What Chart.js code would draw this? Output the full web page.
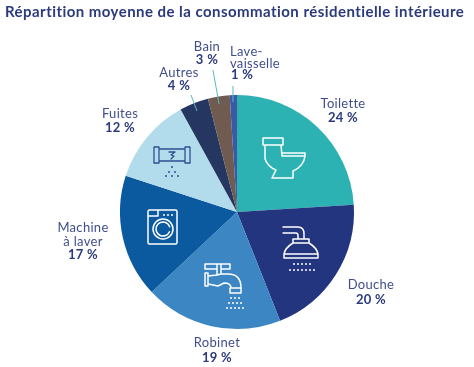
<!DOCTYPE html>
<html lang="fr"><head><meta charset="utf-8">
<style>html,body{margin:0;padding:0;background:#fff}#w{position:relative;width:474px;height:367px}</style>
<script src="https://cdn.jsdelivr.net/npm/chart.js@4/dist/chart.umd.min.js"></script>
</head><body><div id="w"><canvas id="c" width="474" height="367"></canvas></div>
<script>
const titleText = "Répartition moyenne de la consommation résidentielle intérieure";
const categories = ["Toilette","Douche","Robinet","Machine à laver","Fuites","Autres","Bain","Lave-vaisselle"];
const values = [24,20,19,17,12,4,3,1];
const valueLabels = ["24 %","20 %","19 %","17 %","12 %","4 %","3 %","1 %"];
const colors = ["#2db2b4","#22357e","#3c87c3","#0b5a9f","#b2dceb","#253661","#6f5b50","#3a5aa6"];
const ink = "#2b3a7c";
const inkSoft = "#414e8c";

const labelLines = [["Toilette"],["Douche"],["Robinet"],["Machine","à laver"],["Fuites"],["Autres"],["Bain"],["Lave-","vaisselle"]];
const labelAnchors = [[343,104],[371,285],[217,343],[83,228],[120,114],[179,73],[207,47],[230,52]];
const labelAligns = ["center","center","center","center","center","center","center","left"];
const lineSteps = [14,15,15,13.5,14,13,13,11.5];
const leaders = [[[191,95],[197,111]],[[213,70],[219,104]],[[233,86],[233,102]]];

const iconSpots = {toilet:[284,158],shower:[300,248],faucet:[224,286],washer:[163,227],pipe:[172,160]};

function dots(ctx, rows){ for(const [x0,y,n,step] of rows){ for(let i=0;i<n;i++){ ctx.beginPath(); ctx.arc(x0+i*step,y,1,0,7); ctx.fill(); } } }
const icons = {
  toilet(ctx){
    ctx.beginPath();
    ctx.moveTo(-21,-20); ctx.lineTo(-1,-20); ctx.lineTo(-1,-13); ctx.lineTo(-21,-13); ctx.closePath();
    ctx.moveTo(-19,-13); ctx.lineTo(-19,1); ctx.quadraticCurveTo(-16,9,-8,12); ctx.lineTo(-12,20); ctx.lineTo(9,20); ctx.lineTo(9,13);
    ctx.quadraticCurveTo(20,8,21,-2); ctx.lineTo(-2,-2); ctx.lineTo(-3,-13);
    ctx.moveTo(-2,-2); ctx.lineTo(-2,-5); ctx.lineTo(21,-5); ctx.lineTo(21,-2);
    ctx.stroke();
  },
  shower(ctx){
    ctx.beginPath();
    ctx.moveTo(-17,-21); ctx.lineTo(-2,-21); ctx.quadraticCurveTo(4,-21,4,-14); ctx.lineTo(4,-9);
    ctx.moveTo(-17,-15); ctx.lineTo(-4,-15); ctx.quadraticCurveTo(-2,-15,-2,-12); ctx.lineTo(-2,-9);
    ctx.moveTo(-7,-9); ctx.lineTo(9,-9); ctx.lineTo(9,-5); ctx.lineTo(-7,-5); ctx.closePath();
    ctx.moveTo(-7,-5); ctx.quadraticCurveTo(-15,0,-16,6); ctx.moveTo(9,-5); ctx.quadraticCurveTo(17,0,18,6);
    ctx.moveTo(-16,6); ctx.lineTo(18,6); ctx.lineTo(18,10); ctx.lineTo(-16,10); ctx.closePath();
    ctx.stroke();
    dots(ctx,[[-6,16,5,4],[-10,22,7,4]]);
  },
  faucet(ctx){
    ctx.beginPath();
    ctx.moveTo(-19,-22); ctx.lineTo(-7,-22); ctx.lineTo(-7,-17); ctx.lineTo(-19,-17); ctx.closePath();
    ctx.moveTo(-3,-22); ctx.lineTo(6,-22); ctx.lineTo(6,-17); ctx.lineTo(-3,-17); ctx.closePath();
    ctx.moveTo(-7,-22); ctx.lineTo(-3,-22); ctx.moveTo(-3,-17); ctx.lineTo(-3,-12); ctx.moveTo(-7,-17); ctx.lineTo(-7,-11);
    ctx.rect(-19,-13,3,13);
    ctx.moveTo(-16,-10); ctx.lineTo(-7,-11); ctx.lineTo(-3,-12); ctx.lineTo(4,-12);
    ctx.quadraticCurveTo(17,-12,17,2); ctx.lineTo(7,2); ctx.quadraticCurveTo(7,-3,0,-3);
    ctx.lineTo(-6,0); ctx.lineTo(-16,-2);
    ctx.rect(6,2,11,5);
    ctx.stroke();
    dots(ctx,[[7,12,3,4],[5,17,4,4],[3,22,5,4]]);
  },
  washer(ctx){
    ctx.beginPath();
    ctx.roundRect(-15,-17,29,34,1.5);
    ctx.moveTo(-15,-11); ctx.lineTo(-5,-11); ctx.lineTo(-5,-17);
    ctx.stroke();
    ctx.beginPath(); ctx.arc(0,2,10,0,Math.PI*2); ctx.stroke();
    ctx.beginPath(); ctx.arc(0,2,7,0.4,Math.PI*1.9); ctx.stroke();
    dots(ctx,[[1,-12,3,4]]);
  },
  pipe(ctx){
    ctx.beginPath();
    ctx.rect(-18,-13,5,16); ctx.rect(13,-13,5,16);
    ctx.moveTo(-13,-11); ctx.lineTo(13,-11); ctx.moveTo(-13,1); ctx.lineTo(13,1);
    ctx.moveTo(-3,-8); ctx.lineTo(3,-8); ctx.lineTo(-1,-5); ctx.lineTo(2,-4); ctx.lineTo(-1,-1);
    ctx.stroke();
    dots(ctx,[[0,7,1,6],[-3,12,2,6],[-6,16,3,6]]);
  }
};
const iconColors = {toilet:"#ffffff",shower:"#ffffff",faucet:"#ffffff",washer:"#ffffff",pipe:"#2f4f90"};

const annotate = {
  id:"annotate",
  afterDraw(chart){
    const ctx = chart.ctx; ctx.save();
    ctx.fillStyle=ink; ctx.textAlign="left"; ctx.textBaseline="middle";
    ctx.letterSpacing="0.45px";
    ctx.font="bold 15px Lato"; ctx.fillText(titleText,5,12);
    ctx.strokeStyle="#5db7bf"; ctx.lineWidth=1;
    leaders.forEach(([a,b])=>{ctx.beginPath();ctx.moveTo(a[0],a[1]);ctx.lineTo(b[0],b[1]);ctx.stroke();});
    ctx.letterSpacing="0.3px";
    categories.forEach((_,i)=>{
      let [x,y]=labelAnchors[i]; ctx.textAlign=labelAligns[i];
      ctx.font="13px Lato"; ctx.fillStyle=inkSoft;
      labelLines[i].forEach(t=>{ctx.fillText(t,x,y);y+=lineSteps[i];});
      ctx.font="bold 13px Lato"; ctx.fillStyle=ink;
      ctx.fillText(valueLabels[i],x+(labelAligns[i]==="left"?1:0),y);
    });
    ctx.letterSpacing="0px";
    ctx.lineCap="round"; ctx.lineJoin="round";
    for(const k in icons){
      ctx.save(); ctx.translate(iconSpots[k][0],iconSpots[k][1]);
      ctx.strokeStyle=iconColors[k]; ctx.fillStyle=iconColors[k]; ctx.lineWidth=k==="pipe"?1.3:1.5;
      icons[k](ctx); ctx.restore();
    }
    ctx.restore();
  }
};

new Chart(document.getElementById("c"),{
  type:"pie",
  data:{labels:categories,datasets:[{data:values,backgroundColor:colors,borderWidth:0}]},
  plugins:[annotate],
  options:{
    responsive:false,animation:false,
    layout:{padding:{left:120,right:120,top:95,bottom:38}},
    plugins:{legend:{display:false},tooltip:{enabled:false},title:{display:false}}
  }
});
</script></body></html>
